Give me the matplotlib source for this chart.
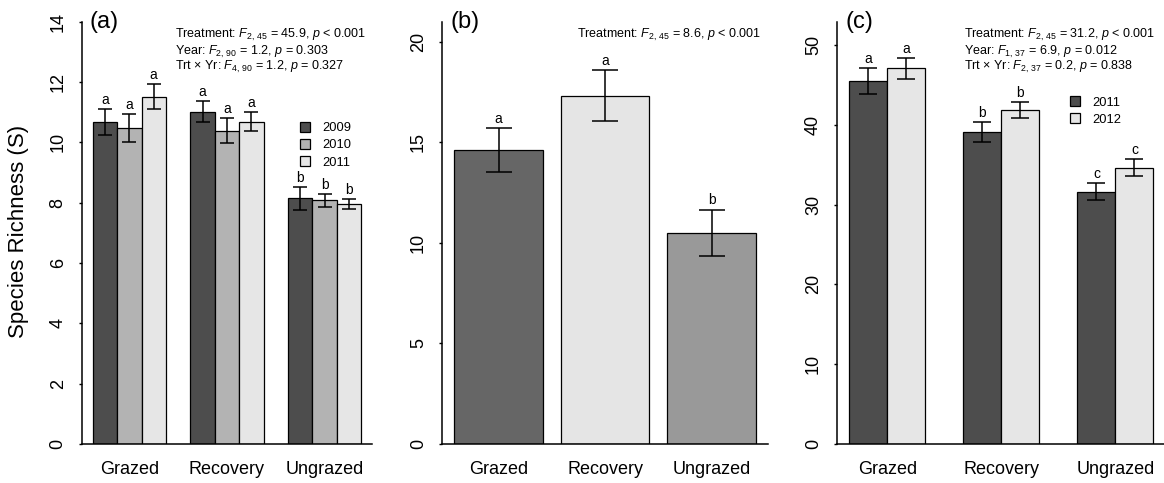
import matplotlib
matplotlib.use("Agg")
import matplotlib.pyplot as plt
import matplotlib.patches as mpatches
import numpy as np

plt.rcParams["font.family"] = ["Liberation Sans", "DejaVu Sans"]
plt.rcParams["mathtext.fontset"] = "custom"
plt.rcParams["mathtext.rm"] = "Liberation Sans"
plt.rcParams["mathtext.it"] = "Liberation Sans:italic"
plt.rcParams["mathtext.bf"] = "Liberation Sans:bold"

treatments = ["Grazed", "Recovery", "Ungrazed"]

# panel (a): 2009-2011
years_a = ["2009", "2010", "2011"]
colors_a = ["#4d4d4d", "#b3b3b3", "#e6e6e6"]
means_a = [[10.68, 11.01, 8.14],
           [10.47, 10.39, 8.08],
           [11.52, 10.69, 7.95]]
se_a = [[0.43, 0.35, 0.37],
        [0.47, 0.41, 0.21],
        [0.41, 0.32, 0.17]]
letters_a = [["a", "a", "b"], ["a", "a", "b"], ["a", "a", "b"]]
stats_a = [r"Treatment: $F_{2,\,45}$ = 45.9, $p$ < 0.001",
           r"Year: $F_{2,\,90}$ = 1.2, $p$ = 0.303",
           r"Trt × Yr: $F_{4,\,90}$ = 1.2, $p$ = 0.327"]

# panel (b)
colors_b = ["#666666", "#e5e5e5", "#999999"]
means_b = [14.62, 17.32, 10.51]
se_b = [1.10, 1.26, 1.15]
letters_b = ["a", "a", "b"]
stats_b = [r"Treatment: $F_{2,\,45}$ = 8.6, $p$ < 0.001"]

# panel (c): 2011-2012
years_c = ["2011", "2012"]
colors_c = ["#4d4d4d", "#e6e6e6"]
means_c = [[45.49, 39.10, 31.62],
           [47.08, 41.85, 34.63]]
se_c = [[1.60, 1.25, 1.10],
        [1.30, 1.00, 1.10]]
letters_c = [["a", "b", "c"], ["a", "b", "c"]]
stats_c = [r"Treatment: $F_{2,\,45}$ = 31.2, $p$ < 0.001",
           r"Year: $F_{1,\,37}$ = 6.9, $p$ = 0.012",
           r"Trt × Yr: $F_{2,\,37}$ = 0.2, $p$ = 0.838"]

fig = plt.figure(figsize=(11.64, 4.83), dpi=100)
bot, top = 0.0807, 0.955
axa = fig.add_axes([0.0704, bot, 0.2492, top - bot])
axb = fig.add_axes([0.3799, bot, 0.2799, top - bot])
axc = fig.add_axes([0.7192, bot, 0.2822, top - bot])


def style(ax, ylim, yticks, label):
    ax.set_ylim(*ylim)
    ax.set_yticks(yticks)
    for s in ["top", "right"]:
        ax.spines[s].set_visible(False)
    ax.spines["left"].set_linewidth(1.1)
    ax.spines["bottom"].set_linewidth(1.1)
    ax.tick_params(axis="y", length=2, width=1, pad=9, labelsize=13)
    ax.tick_params(axis="x", length=0, pad=12, labelsize=13)
    for t in ax.get_yticklabels():
        t.set_rotation(90)
        t.set_va("center")
    ax.text(0.025, 1.0, label, transform=ax.transAxes, fontsize=17,
            ha="left", va="center")


def stats_text(ax, lines, x0):
    ys = [0.9685, 0.929, 0.893]
    for line, y in zip(lines, ys):
        ax.text(x0, y, line, transform=ax.transAxes, fontsize=9,
                ha="left", va="center")


def bars(ax, lefts, vals, errs, color, cap, letters):
    x = np.array(lefts) + 0.5
    ax.bar(x, vals, width=1.0, color=color, edgecolor="black", linewidth=0.9)
    ax.errorbar(x, vals, yerr=errs, fmt="none", ecolor="black",
                elinewidth=1.1, capsize=cap, capthick=1.1)
    for xi, v, e, l in zip(x, vals, errs, letters):
        ax.annotate(l, (xi, v + e), xytext=(0, 1.5), textcoords="offset points",
                    ha="center", va="bottom", fontsize=10)


# (a)
for j in range(3):
    lefts = [1 + g * 4 + j for g in range(3)]
    bars(axa, lefts, means_a[j], se_a[j], colors_a[j], 5.3, letters_a[j])
axa.set_xlim(0.56, 12.44)
axa.set_xticks([2.5, 6.5, 10.5])
axa.set_xticklabels(treatments)
style(axa, (0, 14), range(0, 15, 2), "(a)")
stats_text(axa, stats_a, 0.321)
h = [mpatches.Patch(facecolor=c, edgecolor="black", linewidth=0.9) for c in colors_a]
axa.legend(h, years_a, loc="upper left", bbox_to_anchor=(0.752, 0.762),
           frameon=False, fontsize=9.3, handlelength=0.75, handleheight=0.75,
           handletextpad=0.95, labelspacing=0.37, borderpad=0, borderaxespad=0)

# (b)
lefts_b = [0.2 + i * 1.2 for i in range(3)]
for i in range(3):
    bars(axb, [lefts_b[i]], [means_b[i]], [se_b[i]], colors_b[i], 9.7, [letters_b[i]])
axb.set_xlim(0.064, 3.736)
axb.set_xticks([l + 0.5 for l in lefts_b])
axb.set_xticklabels(treatments)
style(axb, (0, 21), range(0, 21, 5), "(b)")
stats_text(axb, stats_b, 0.413)

# (c)
for j in range(2):
    lefts = [1 + g * 3 + j for g in range(3)]
    bars(axc, lefts, means_c[j], se_c[j], colors_c[j], 6.5, letters_c[j])
axc.set_xlim(0.68, 9.32)
axc.set_xticks([2, 5, 8])
axc.set_xticklabels(treatments)
style(axc, (0, 52.9), range(0, 51, 10), "(c)")
stats_text(axc, stats_c, 0.386)
h = [mpatches.Patch(facecolor=c, edgecolor="black", linewidth=0.9) for c in colors_c]
axc.legend(h, years_c, loc="upper left", bbox_to_anchor=(0.709, 0.823),
           frameon=False, fontsize=9.3, handlelength=0.75, handleheight=0.75,
           handletextpad=0.95, labelspacing=0.37, borderpad=0, borderaxespad=0)

fig.text(0.0163, 0.52, "Species Richness (S)", rotation=90, fontsize=16,
         ha="center", va="center")

fig.savefig("out.png", dpi=100)
